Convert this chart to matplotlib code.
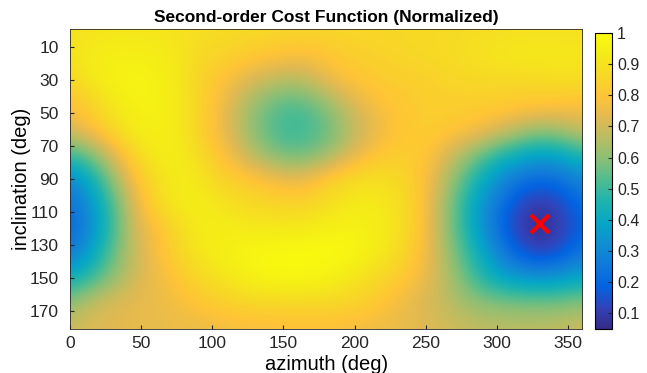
import numpy as np
import matplotlib
matplotlib.use('Agg')
import matplotlib.pyplot as plt
from matplotlib.colors import LinearSegmentedColormap

# grid: azimuth every 15 deg, inclination every 15 deg
azimuth = np.arange(0, 361, 15)
inclination = np.arange(0, 181, 15)

cost = np.array([
    # inc 0
    [0.89, 0.90, 0.91, 0.91, 0.91, 0.90, 0.89, 0.88, 0.87, 0.87, 0.86, 0.86, 0.86, 0.86, 0.86, 0.86, 0.87, 0.87, 0.87, 0.88, 0.88, 0.89, 0.89, 0.89, 0.89],
    # inc 15
    [0.90, 0.94, 0.95, 0.95, 0.94, 0.92, 0.87, 0.85, 0.83, 0.81, 0.79, 0.78, 0.80, 0.83, 0.84, 0.85, 0.86, 0.87, 0.88, 0.90, 0.92, 0.93, 0.93, 0.93, 0.92],
    # inc 30
    [0.86, 0.92, 0.96, 0.97, 0.96, 0.92, 0.85, 0.80, 0.74, 0.69, 0.66, 0.67, 0.74, 0.79, 0.81, 0.83, 0.83, 0.84, 0.86, 0.86, 0.86, 0.86, 0.87, 0.88, 0.88],
    # inc 45
    [0.78, 0.84, 0.91, 0.96, 0.96, 0.93, 0.86, 0.77, 0.67, 0.58, 0.53, 0.53, 0.60, 0.69, 0.76, 0.80, 0.82, 0.83, 0.83, 0.83, 0.83, 0.82, 0.81, 0.80, 0.78],
    # inc 60
    [0.72, 0.79, 0.87, 0.93, 0.95, 0.93, 0.85, 0.76, 0.66, 0.56, 0.50, 0.50, 0.55, 0.64, 0.72, 0.78, 0.82, 0.83, 0.81, 0.78, 0.73, 0.66, 0.62, 0.64, 0.70],
    # inc 75
    [0.50, 0.58, 0.72, 0.86, 0.93, 0.94, 0.88, 0.80, 0.71, 0.62, 0.56, 0.56, 0.61, 0.70, 0.78, 0.82, 0.83, 0.78, 0.68, 0.58, 0.48, 0.42, 0.38, 0.40, 0.47],
    # inc 90
    [0.30, 0.42, 0.60, 0.78, 0.88, 0.93, 0.92, 0.85, 0.82, 0.79, 0.75, 0.75, 0.82, 0.87, 0.89, 0.88, 0.84, 0.74, 0.60, 0.45, 0.33, 0.24, 0.20, 0.23, 0.30],
    # inc 105
    [0.22, 0.34, 0.52, 0.72, 0.86, 0.93, 0.94, 0.91, 0.88, 0.86, 0.85, 0.85, 0.88, 0.92, 0.93, 0.91, 0.85, 0.72, 0.55, 0.38, 0.25, 0.13, 0.09, 0.13, 0.22],
    # inc 120
    [0.19, 0.32, 0.50, 0.70, 0.78, 0.86, 0.93, 0.94, 0.93, 0.92, 0.92, 0.93, 0.95, 0.96, 0.95, 0.92, 0.85, 0.72, 0.55, 0.38, 0.22, 0.10, 0.05, 0.10, 0.19],
    # inc 135
    [0.26, 0.38, 0.55, 0.68, 0.77, 0.85, 0.91, 0.95, 0.97, 0.99, 1.00, 1.00, 1.00, 0.99, 0.95, 0.90, 0.83, 0.72, 0.58, 0.44, 0.30, 0.17, 0.12, 0.16, 0.25],
    # inc 150
    [0.42, 0.50, 0.60, 0.70, 0.75, 0.80, 0.86, 0.90, 0.94, 0.97, 0.98, 0.98, 0.96, 0.92, 0.88, 0.84, 0.79, 0.72, 0.62, 0.50, 0.40, 0.35, 0.33, 0.35, 0.40],
    # inc 165
    [0.60, 0.68, 0.72, 0.74, 0.75, 0.77, 0.80, 0.83, 0.85, 0.86, 0.86, 0.86, 0.86, 0.85, 0.83, 0.78, 0.74, 0.70, 0.65, 0.61, 0.59, 0.58, 0.58, 0.58, 0.60],
    # inc 180
    [0.70, 0.72, 0.73, 0.74, 0.74, 0.75, 0.75, 0.76, 0.77, 0.77, 0.78, 0.78, 0.78, 0.77, 0.76, 0.75, 0.74, 0.72, 0.70, 0.68, 0.67, 0.67, 0.67, 0.68, 0.70],
])

best_az = 330
best_inc = 117

cb_ticks = [0.1, 0.2, 0.3, 0.4, 0.5, 0.6, 0.7, 0.8, 0.9, 1]
x_ticks = [0, 50, 100, 150, 200, 250, 300, 350]
y_ticks = [10, 30, 50, 70, 90, 110, 130, 150, 170]

# MATLAB parula (every 4th entry of the 64 colour table)
parula_rgb = [
    (0.2081, 0.1663, 0.5292), (0.1959, 0.2645, 0.7279), (0.0117, 0.3875, 0.8820),
    (0.0629, 0.4737, 0.8554), (0.0641, 0.5570, 0.8240), (0.0228, 0.6535, 0.7768),
    (0.1133, 0.7015, 0.6859), (0.3022, 0.7376, 0.5712), (0.5300, 0.7491, 0.4661),
    (0.7184, 0.7411, 0.3905), (0.8824, 0.7274, 0.3217), (0.9990, 0.7653, 0.2164),
    (0.9697, 0.8481, 0.1475), (0.9598, 0.9218, 0.0948), (0.9763, 0.9831, 0.0538),
]
parula = LinearSegmentedColormap.from_list('parula', parula_rgb, N=256)

plt.rcParams['font.family'] = ['Liberation Sans', 'DejaVu Sans']

fig = plt.figure(figsize=(6.47, 3.73), dpi=100)
ax = fig.add_axes([0.108, 0.118, 0.792, 0.804])
cax = fig.add_axes([0.920, 0.118, 0.026, 0.794])

da = azimuth[1] - azimuth[0]
di = inclination[1] - inclination[0]
im = ax.imshow(cost, cmap=parula, vmin=0.05, vmax=1.0, aspect='auto',
               interpolation='bicubic', interpolation_stage='data',
               extent=[azimuth[0] - da / 2, azimuth[-1] + da / 2,
                       inclination[-1] + di / 2, inclination[0] - di / 2])
ax.set_xlim(0, 360)
ax.set_ylim(181, -1)
ax.plot(best_az, best_inc, 'x', color='red', markersize=13, mew=3)

ax.set_xticks(x_ticks)
ax.set_yticks(y_ticks)
ax.tick_params(direction='in', length=3, labelsize=12.5, colors='#262626')
ax.tick_params(axis='y', pad=8)
ax.tick_params(axis='x', pad=5)
for s in ax.spines.values():
    s.set_color('#262626')
    s.set_linewidth(0.6)
ax.set_xlabel('azimuth (deg)', fontsize=14.5, labelpad=3)
ax.set_ylabel('inclination (deg)', fontsize=14.5, labelpad=-1)
ax.set_title('Second-order Cost Function (Normalized)', fontsize=12.5, fontweight='bold', pad=5)

cb = fig.colorbar(im, cax=cax, ticks=cb_ticks)
cb.ax.tick_params(direction='in', length=3, labelsize=11.5, colors='#262626')
cb.ax.set_yticklabels([str(t) for t in cb_ticks])
cb.outline.set_linewidth(0.8)

fig.savefig('out.png', dpi=100)
